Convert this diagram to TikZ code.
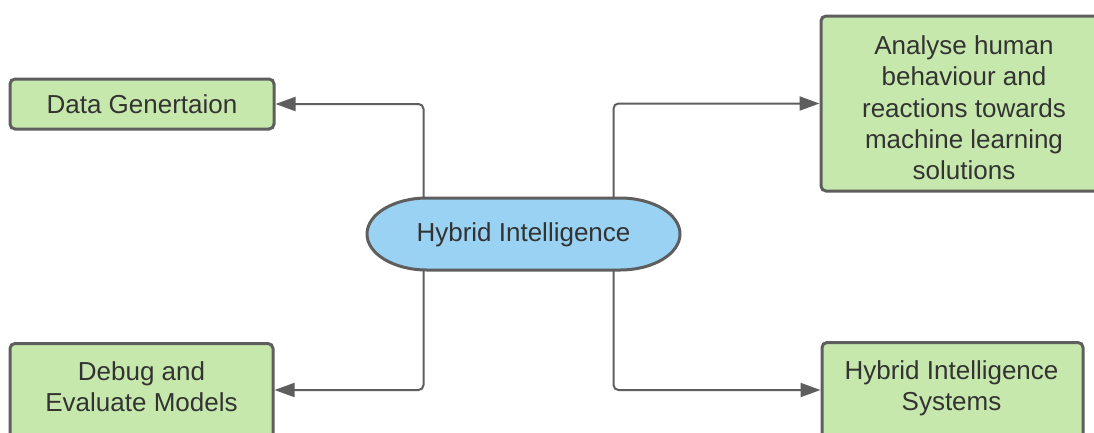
\documentclass[tikz,border=0pt]{standalone}
\usepackage{fontspec}
\setmainfont{Liberation Sans}
\usetikzlibrary{arrows.meta}
\definecolor{boxgreen}{HTML}{C7E8AC}
\definecolor{pillblue}{HTML}{99D2F2}
\definecolor{edge}{HTML}{5E5E5E}
\definecolor{ink}{HTML}{333333}
\begin{document}
\begin{tikzpicture}[x=1pt,y=-1pt,
  box/.style={draw=edge, fill=boxgreen, line width=3pt, rounded corners=5pt, inner sep=0pt},
  txt/.style={text=ink, align=center, font=\fontsize{26}{31.3}\selectfont},
  link/.style={draw=edge, line width=2pt, rounded corners=5pt, -{Triangle[length=20pt,width=14pt]}}]
\clip (0,0) rectangle (1094,432);
\fill[white] (0,0) rectangle (1094,432);

% central pill with elliptical ends
\draw[edge, fill=pillblue, line width=3pt]
  (427,198) -- (620,198)
  arc[start angle=90, end angle=-90, x radius=60pt, y radius=36pt]
  -- (427,270)
  arc[start angle=270, end angle=90, x radius=60pt, y radius=36pt] -- cycle;
\node[txt, minimum width=312pt, minimum height=72pt] (hi) at (523.5,235) {Hybrid Intelligence};

% outcome boxes
\node[box, txt, minimum width=264pt, minimum height=50pt] (dg) at (142,104) {Data Genertaion};
\node[box, minimum width=286pt, minimum height=175pt] (an) at (964,103.5) {};
\node[txt] (ant) at (964,108)
  {Analyse human\\behaviour and\\reactions towards\\machine learning\\solutions};
\node[box, minimum width=263pt, minimum height=110pt, anchor=north] (db) at (141.5,342) {};
\node[txt] (dbt) at (141.5,387) {Debug and\\Evaluate Models};
\node[box, minimum width=261pt, minimum height=110pt, anchor=north] (hs) at (952.5,341) {};
\node[txt] (hst) at (951.5,388) {Hybrid Intelligence\\Systems};

% connectors
\draw[link] ([xshift=-100pt]hi.north) |- (dg.east);
\draw[link] ([xshift=90pt]hi.north) |- (an.west);
\draw[link] ([xshift=-100pt]hi.south) |- ([yshift=-48pt]db.north east);
\draw[link] ([xshift=90pt]hi.south) |- ([yshift=-49pt]hs.north west);
\end{tikzpicture}
\end{document}
